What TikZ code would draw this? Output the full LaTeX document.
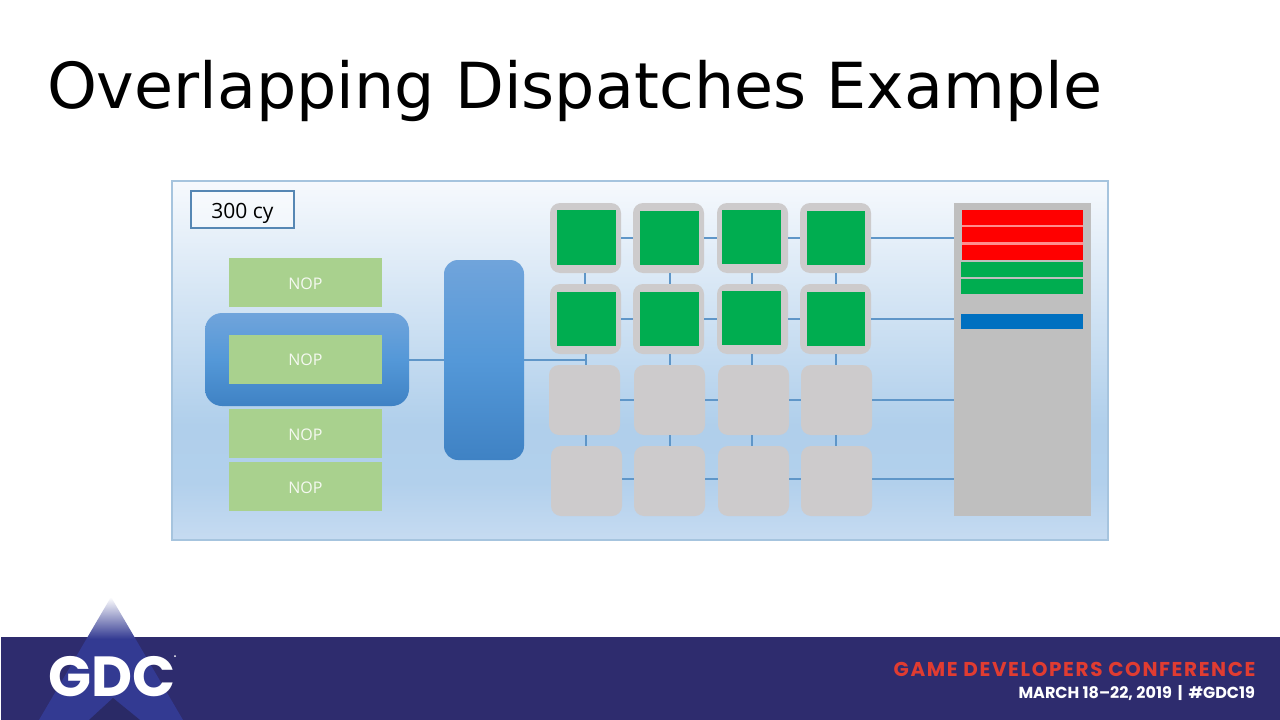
\documentclass[tikz,border=0pt]{standalone}
\usepackage{fontspec}
\setmainfont{DejaVu Sans}
\newfontfamily\popb[BoldFont={Poppins Bold}]{Poppins}
\newfontfamily\popw[BoldFont={Poppins Bold},LetterSpace=8]{Poppins}
\newfontfamily\opens{Open Sans}
\usetikzlibrary{positioning,calc}
\definecolor{band}{HTML}{2E2C6E}
\definecolor{tri}{HTML}{333A92}
\definecolor{tridark}{HTML}{2A2A66}
\definecolor{redtxt}{HTML}{E03C31}
\definecolor{cellgray}{HTML}{CDCBCC}
\definecolor{nopgreen}{HTML}{A9D18E}
\definecolor{chipgreen}{HTML}{00AD50}
\definecolor{wire}{HTML}{5F96C8}
\definecolor{pbot}{HTML}{C6DBF1}
\definecolor{plow}{HTML}{B2D0EC}
\definecolor{pmid}{HTML}{B0CFEB}
\definecolor{ptop}{HTML}{F6F9FD}
\definecolor{pedge}{HTML}{A6C4DE}
\definecolor{btop}{HTML}{70A4DB}
\definecolor{bmid}{HTML}{5498D8}
\definecolor{bbot}{HTML}{3F82C4}
\definecolor{barblue}{HTML}{0070C0}
\pgfdeclareverticalshading{panelshade}{100bp}{color(0bp)=(pbot); color(25bp)=(pbot); color(33bp)=(plow); color(41bp)=(pmid); color(75bp)=(ptop); color(100bp)=(ptop)}
\pgfdeclareverticalshading{blueshade}{100bp}{color(0bp)=(bbot); color(25bp)=(bbot); color(50bp)=(bmid); color(75bp)=(btop); color(100bp)=(btop)}
\pgfdeclareverticalshading{trishade}{100bp}{color(0bp)=(tri); color(25bp)=(tri); color(58bp)=(tri); color(75bp)=(white); color(100bp)=(white)}
\tikzset{
  px/.style args={#1/#2/#3/#4}{minimum width={(#3-#1)*1pt},minimum height={(#4-#2)*1pt},at={({(#1+#3)/2},{(#2+#4)/2})}},
  base/.style={inner sep=0pt,outer sep=0pt,anchor=center},
  cell/.style={base,fill=cellgray,rounded corners=10pt},
  chip/.style={base,fill=chipgreen},
  nop/.style={base,fill=nopgreen,text=white!88!nopgreen,font=\opens\fontsize{16}{16}\selectfont,text depth=0pt},
  bluebox/.style={base,shading=blueshade,shading angle=0},
  wireline/.style={draw=wire,line width=2pt},
  bar/.style={base,fill=#1},
}
\begin{document}
\begin{tikzpicture}[x=1pt,y=-1pt]
\useasboundingbox (0,0) rectangle (1280,720);
\fill[white] (0,0) rectangle (1280,720);
% title
\node[base,anchor=base west,font=\fontsize{63.5}{64}\selectfont,text=black] (title) at (47,108) {Overlapping Dispatches Example};
% panel
\node[base,px=172/181/1108/540,shading=panelshade,shading angle=0,draw=pedge,line width=2.4pt] (panel) {};
\node[base,px=191/191/294/228,fill=white,fill opacity=.4,text opacity=1,draw=wire!90!black,line width=1.8pt,font=\opens\fontsize{21}{21}\selectfont,text height=17pt,text depth=0pt] (cy) {300 cy};
% group and dispatcher
\node[bluebox,px=205/313/409/406,rounded corners=17pt] (group) {};
\node[bluebox,px=444/260/524/460,rounded corners=14pt] (disp) {};
% NOPs
\node[nop,px=229/258/382/307,text height=13pt] (n1) {NOP};
\node[nop,px=229/335/382/384,text height=11pt] (n2) {NOP};
\node[nop,px=229/409/382/458,text height=13pt] (n3) {NOP};
\node[nop,px=229/462/382/511,text height=14pt] (n4) {NOP};
% cells
\node[cell,px=550/203/621/273] (c11) {};
\node[cell,px=633/203/704/273] (c12) {};
\node[cell,px=717/203/788/273] (c13) {};
\node[cell,px=800/203/871/273] (c14) {};
\node[cell,px=550/284/621/354] (c21) {};
\node[cell,px=633/284/704/354] (c22) {};
\node[cell,px=717/284/788/354] (c23) {};
\node[cell,px=800/284/871/354] (c24) {};
\node[cell,px=549/365/620/435] (c31) {};
\node[cell,px=634/365/705/435] (c32) {};
\node[cell,px=718/365/789/435] (c33) {};
\node[cell,px=801/365/872/435] (c34) {};
\node[cell,px=551/446/622/516] (c41) {};
\node[cell,px=634/446/705/516] (c42) {};
\node[cell,px=718/446/789/516] (c43) {};
\node[cell,px=801/446/872/516] (c44) {};
% chips
\node[chip,px=557/210/616/265] (g11) {};
\node[chip,px=640/211/699/265] (g12) {};
\node[chip,px=722/210/781/264] (g13) {};
\node[chip,px=807/211/865/265] (g14) {};
\node[chip,px=557/292/616/346] (g21) {};
\node[chip,px=640/292/699/346] (g22) {};
\node[chip,px=722/291/781/345] (g23) {};
\node[chip,px=807/292/865/346] (g24) {};
% memory
\node[base,px=954/203/1091/516,fill=black!25!white] (mem) {};
\fill[white!55!red] (962,225) rectangle (1083,227) (962,242) rectangle (1083,245);
\node[bar=red,px=962/210/1083/225] (r1) {};
\node[bar=red,px=962/227/1083/242] (r2) {};
\node[bar=red,px=962/245/1083/260] (r3) {};
\node[bar=chipgreen,px=961/262/1083/277] (s1) {};
\node[bar=chipgreen,px=961/279/1083/294] (s2) {};
\node[bar=barblue,px=961/314/1083/329] (b1) {};
% connectors
\coordinate (tap) at (586,360);
\draw[wireline] (group.east |- tap) -- (disp.west |- tap);
\draw[wireline] (disp.east |- tap) -- (tap);
\foreach \r/\y in {1/238,2/319,3/400,4/479}{
  \draw[wireline] (c\r1.east |- 0,\y) -- (c\r2.west |- 0,\y);
  \draw[wireline] (c\r2.east |- 0,\y) -- (c\r3.west |- 0,\y);
  \draw[wireline] (c\r3.east |- 0,\y) -- (c\r4.west |- 0,\y);
  \draw[wireline] (c\r4.east |- 0,\y) -- (mem.west |- 0,\y);
}
\draw[wireline] (585,0 |- c11.south) -- (585,0 |- c21.north);
\draw[wireline] (586,0 |- c21.south) -- (586,0 |- c31.north);
\draw[wireline] (586,0 |- c31.south) -- (586,0 |- c41.north);
\foreach \c/\x in {2/669.5,3/752,4/836}{
  \draw[wireline] (\x,0 |- c1\c.south) -- (\x,0 |- c2\c.north);
  \draw[wireline] (\x,0 |- c2\c.south) -- (\x,0 |- c3\c.north);
  \draw[wireline] (\x,0 |- c3\c.south) -- (\x,0 |- c4\c.north);
}
% footer
\fill[band] (1,637) rectangle (1280,720);
\shade[shading=trishade,shading angle=0] (111,597) -- (183,720) -- (39,720) -- cycle;
\fill[tridark] (113,698) -- (140,720) -- (89,720) -- cycle;
\node[base,anchor=base west,text=white,font=\popb\bfseries\fontsize{56.5}{57}\selectfont] (gdc) at (48,696.5) {GDC};
\fill[white] (175,656) circle (1pt);
\node[base,anchor=base east,text=redtxt,font=\popw\bfseries\fontsize{20}{20}\selectfont] (gdc1) at (1255.5,676) {GAME DEVELOPERS CONFERENCE};
\node[base,anchor=base east,text=white,font=\popb\bfseries\fontsize{16}{16}\selectfont] (gdc2) at (1255,698) {MARCH 18–22, 2019 \,|\, \#GDC19};
\end{tikzpicture}
\end{document}
